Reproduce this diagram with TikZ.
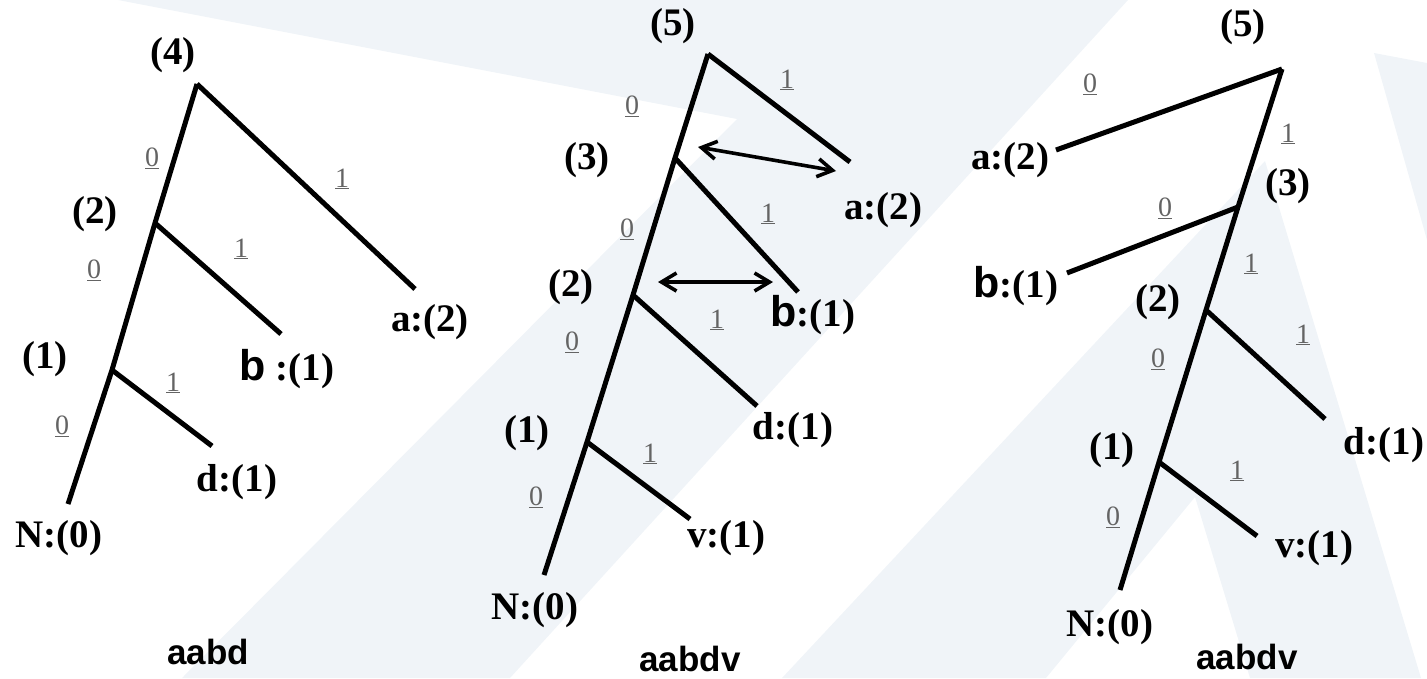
\documentclass[tikz,border=0pt]{standalone}
\usepackage{fontspec}
\setmainfont{Liberation Serif}
\newfontfamily\sansb{Liberation Sans}
\usetikzlibrary{arrows.meta}
\definecolor{bgc}{RGB}{240,244,248}
\definecolor{elc}{RGB}{100,100,100}
\tikzset{
  edge/.style={line width=5pt, line join=miter},
  lbl/.style={font=\fontsize{39}{42}\selectfont\bfseries, inner sep=0pt, text=black},
  el/.style={font=\fontsize{28}{30}\selectfont, text=elc, inner sep=0pt},
  capt/.style={font=\sansb\fontsize{35}{38}\selectfont\bfseries, inner sep=0pt},
  dbl/.style={line width=3.6pt, {Straight Barb[length=15pt,width=18pt]}-{Straight Barb[length=15pt,width=18pt]}},
}
\newcommand\ulab[1]{\underline{#1}}
\newcommand\bb{{\sansb\fontsize{43}{44}\selectfont b}}
\begin{document}
\begin{tikzpicture}[x=1pt,y=-1pt]
\useasboundingbox (0,0) rectangle (1427,678);
% background watermark
\fill[bgc] (118,0) -- (1128,0) -- (510,678) -- (182,678) -- (737,119) -- cycle;
\fill[bgc] (1265,161) -- (1421,678) -- (1250,678) -- (1195,497) -- (1046,678) -- (782,678) -- cycle;
\fill[bgc] (1374,53) -- (1427,63) -- (1427,240) -- cycle;

% ---------- Tree 1 ----------
\coordinate (r1) at (197,84);
\coordinate (j12) at (155,223);
\coordinate (j11) at (112,370);
\coordinate (n1) at (68,504);
\coordinate (a1) at (415,289);
\coordinate (b1) at (281,334);
\coordinate (d1) at (212,446);
\draw[edge] (r1) -- (j12) -- (j11) -- (n1);
\draw[edge] (r1) -- (a1);
\draw[edge] (j12) -- (b1);
\draw[edge] (j11) -- (d1);
\node[lbl] (t1l4) at (173,55) {(4)};
\node[lbl] (t1l2) at (95,214) {(2)};
\node[lbl] (t1l1) at (45,359) {(1)};
\node[lbl] (t1a) at (430,322) {a:(2)};
\node[lbl] (t1b) at (287,369) {\bb\ :(1)};
\node[lbl] (t1d) at (237,482) {d:(1)};
\node[lbl] (t1n) at (59,538) {N:(0)};
\node[capt] (t1c) at (208,652) {aabd};
\node[el] (t1e1) at (152,158) {\ulab{0}};
\node[el] (t1e2) at (94,270) {\ulab{0}};
\node[el] (t1e3) at (62,426) {\ulab{0}};
\node[el] (t1e4) at (342,179) {\ulab{1}};
\node[el] (t1e5) at (241,249) {\ulab{1}};
\node[el] (t1e6) at (173,383) {\ulab{1}};

% ---------- Tree 2 ----------
\coordinate (r2) at (708,54);
\coordinate (j23) at (675,158);
\coordinate (j22) at (633,295);
\coordinate (j21) at (587,442);
\coordinate (n2) at (544,575);
\coordinate (a2) at (850,162);
\coordinate (b2) at (798,292);
\coordinate (d2) at (757,406);
\coordinate (v2) at (690,519);
\draw[edge] (r2) -- (j23) -- (j22) -- (j21) -- (n2);
\draw[edge] (r2) -- (a2);
\draw[edge] (j23) -- (b2);
\draw[edge] (j22) -- (d2);
\draw[edge] (j21) -- (v2);
\node[lbl] (t2l5) at (673,26) {(5)};
\node[lbl] (t2l3) at (587,160) {(3)};
\node[lbl] (t2l2) at (571,287) {(2)};
\node[lbl] (t2l1) at (527,433) {(1)};
\node[lbl] (t2a) at (883,210) {a:(2)};
\node[lbl] (t2b) at (813,315) {\bb:(1)};
\node[lbl] (t2d) at (793,430) {d:(1)};
\node[lbl] (t2v) at (726,538) {v:(1)};
\node[lbl] (t2n) at (535,610) {N:(0)};
\node[capt] (t2c) at (690,659) {aabdv};
\node[el] (t2e1) at (632,106) {\ulab{0}};
\node[el] (t2e2) at (627,229) {\ulab{0}};
\node[el] (t2e3) at (572,342) {\ulab{0}};
\node[el] (t2e4) at (536,497) {\ulab{0}};
\node[el] (t2e5) at (787,80) {\ulab{1}};
\node[el] (t2e6) at (768,214) {\ulab{1}};
\node[el] (t2e7) at (717,320) {\ulab{1}};
\node[el] (t2e8) at (650,454) {\ulab{1}};
\coordinate (ar1s) at (698,147);
\coordinate (ar1e) at (836,171);
\coordinate (ar2s) at (658,282);
\coordinate (ar2e) at (773,282);
\draw[dbl] (ar1s) -- (ar1e);
\draw[dbl] (ar2s) -- (ar2e);

% ---------- Tree 3 ----------
\coordinate (r3) at (1282,69);
\coordinate (j33) at (1238,207);
\coordinate (j32) at (1206,310);
\coordinate (j31) at (1159,462);
\coordinate (n3) at (1120,590);
\coordinate (a3) at (1056,150);
\coordinate (b3) at (1067,273);
\coordinate (d3) at (1325,419);
\coordinate (v3) at (1257,536);
\draw[edge] (r3) -- (j33) -- (j32) -- (j31) -- (n3);
\draw[edge] (r3) -- (a3);
\draw[edge] (j33) -- (b3);
\draw[edge] (j32) -- (d3);
\draw[edge] (j31) -- (v3);
\node[lbl] (t3l5) at (1243,27) {(5)};
\node[lbl] (t3l3) at (1288,186) {(3)};
\node[lbl] (t3l2) at (1158,302) {(2)};
\node[lbl] (t3l1) at (1112,450) {(1)};
\node[lbl] (t3a) at (1010,160) {a:(2)};
\node[lbl] (t3b) at (1016,286) {\bb:(1)};
\node[lbl] (t3d) at (1384,445) {d:(1)};
\node[lbl] (t3v) at (1314,548) {v:(1)};
\node[lbl] (t3n) at (1110,627) {N:(0)};
\node[capt] (t3c) at (1247,657) {aabdv};
\node[el] (t3e1) at (1090,84) {\ulab{0}};
\node[el] (t3e2) at (1165,208) {\ulab{0}};
\node[el] (t3e3) at (1158,359) {\ulab{0}};
\node[el] (t3e4) at (1113,517) {\ulab{0}};
\node[el] (t3e5) at (1288,134) {\ulab{1}};
\node[el] (t3e6) at (1251,264) {\ulab{1}};
\node[el] (t3e7) at (1303,335) {\ulab{1}};
\node[el] (t3e8) at (1237,471) {\ulab{1}};
\end{tikzpicture}
\end{document}
